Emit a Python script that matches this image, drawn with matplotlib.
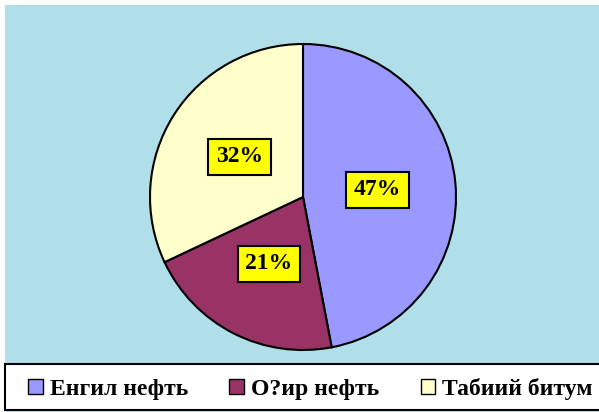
import matplotlib.pyplot as plt
from matplotlib.patches import Rectangle

# дані діаграми
labels = ['Енгил нефть', 'О?ир нефть', 'Табиий битум']
values = [47, 21, 32]
colors = ['#9999FF', '#993366', '#FFFFCC']

plt.rcParams['font.family'] = ['Liberation Serif', 'DejaVu Serif']

fig = plt.figure(figsize=(5.99, 4.12), dpi=100)
fig.patch.set_facecolor('white')

# фон (вода)
W, H = 599.0, 412.0
fig.patches.append(Rectangle((5 / W, 0), 1 - 5 / W, 1 - 5 / H,
                             transform=fig.transFigure, facecolor='#B0DFE9',
                             edgecolor='none', zorder=-2))

ax = fig.add_axes([150 / W, 62 / H, 306 / W, 306 / H])
ax.set_zorder(1)
wedges, texts, autotexts = ax.pie(
    values, colors=colors, startangle=90, counterclock=False,
    autopct='%1.0f%%', pctdistance=0.49,
    wedgeprops=dict(edgecolor='black', linewidth=1.5),
    textprops=dict(fontsize=17, fontweight='bold', color='black'))
for t in autotexts:
    t.set_bbox(dict(boxstyle='square,pad=0.33', facecolor='#FFFF00',
                    edgecolor='black', linewidth=1.5))
ax.set_xlim(-1, 1)
ax.set_ylim(-1, 1)
ax.set_aspect('equal')

# рамка легенди
fig.patches.append(Rectangle((5 / W, 2 / H), 1, 46 / H,
                             transform=fig.transFigure, facecolor='white',
                             edgecolor='black', linewidth=1.5, zorder=2))

leg = fig.legend(wedges, labels, loc='center left', ncol=3,
                 bbox_to_anchor=(28 / W, 23 / H), frameon=False,
                 prop=dict(size=17, weight='bold'),
                 handlelength=0.62, handleheight=0.62, handletextpad=0.3,
                 columnspacing=1.75, borderaxespad=0, borderpad=0)
leg.set_zorder(3)
for h in leg.legend_handles:
    h.set_linewidth(1.0)

fig.savefig('out.png', dpi=100)
